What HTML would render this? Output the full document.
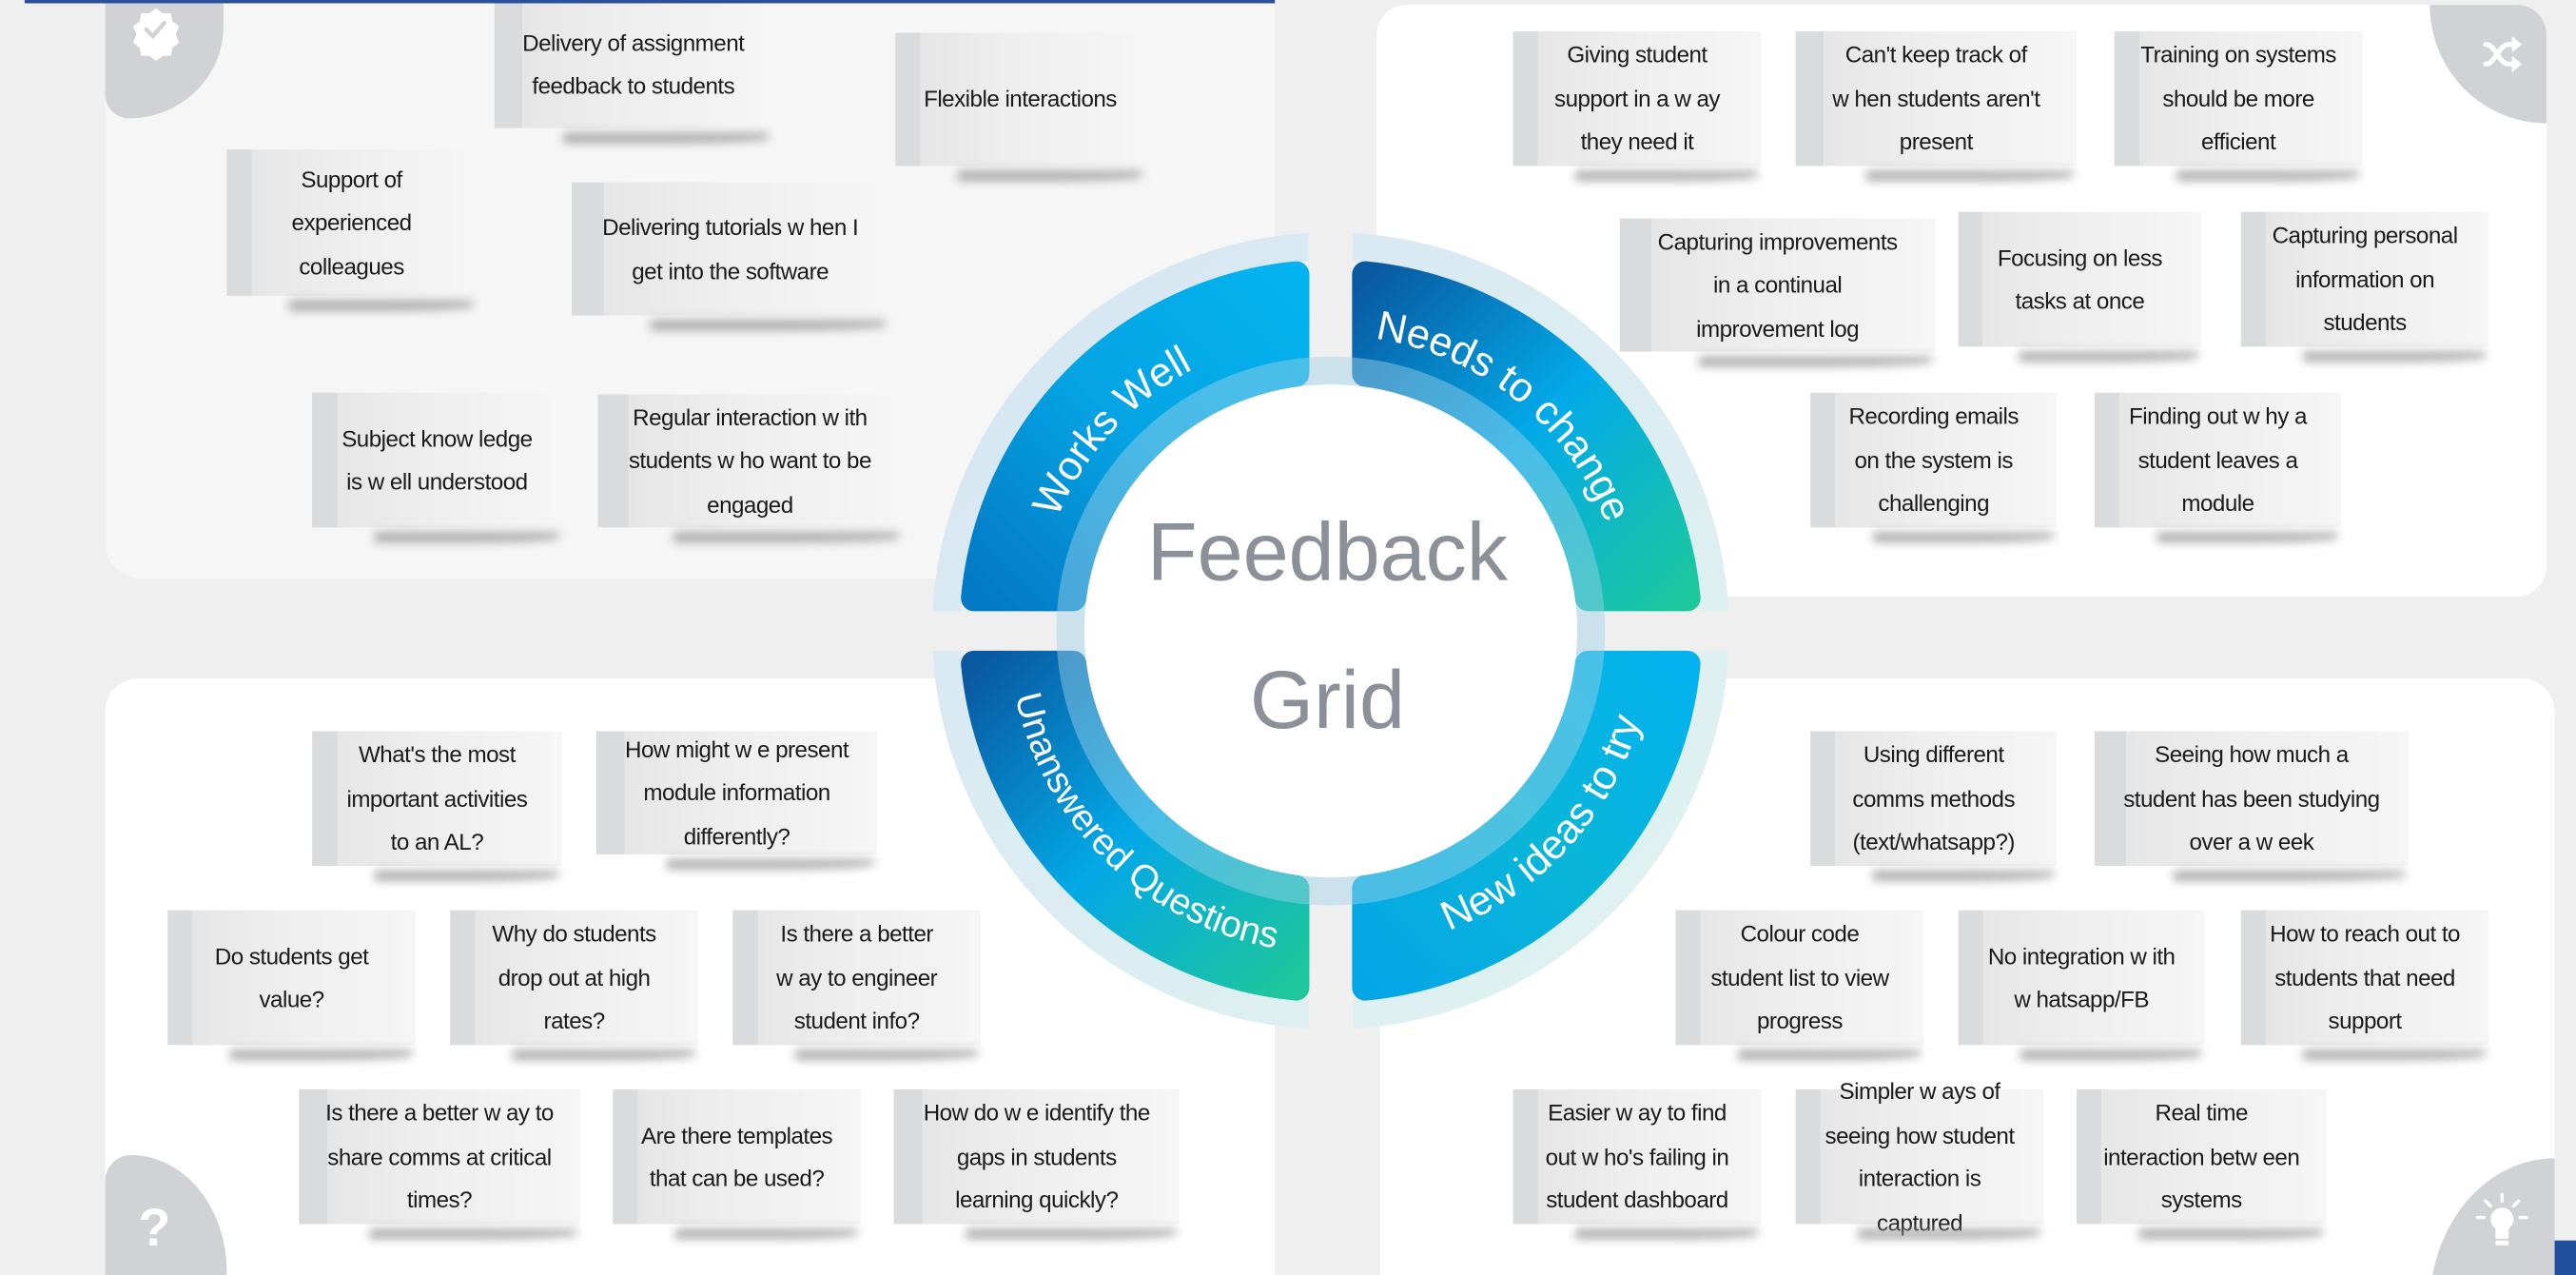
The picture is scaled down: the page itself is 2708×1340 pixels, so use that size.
<!DOCTYPE html>
<html><head><meta charset="utf-8">
<style>
html,body{margin:0;padding:0;width:2708px;height:1340px;overflow:hidden;background:#efefef;}
#w{position:absolute;left:0;top:0;width:1568px;height:776px;transform:scale(1.72704,1.72680);transform-origin:0 0;background:#efefef;overflow:hidden;font-family:"Liberation Sans",sans-serif;}
.p{position:absolute;background:#fff;}
.n{position:absolute;display:flex;flex-direction:column;justify-content:center;align-items:center;text-align:center;font-size:14px;line-height:26.5px;color:#1a1a1a;letter-spacing:-0.3px;white-space:nowrap;
background:linear-gradient(90deg,#dadbdd 0,#dadbdd 10%,#e6e6e6 10%,#eeeeee 45%,#f6f6f6 100%);}
.n::after{content:"";position:absolute;left:25%;right:2px;bottom:-9px;height:6px;background:#8e8e8e;filter:blur(3px);opacity:.75;border-radius:0 0 50% 0;}
.leaf{position:absolute;background:#d1d2d6;}
</style></head><body>
<div id="w">
<div class="p" style="left:64px;top:2px;width:712px;height:350px;background:#f6f6f6;border-radius:0 0 0 22px"></div>
<div class="p" style="left:838px;top:3px;width:712px;height:360px;border-radius:18px"></div>
<div class="p" style="left:64px;top:413px;width:712px;height:380px;border-radius:20px 20px 0 0"></div>
<div class="p" style="left:840px;top:413px;width:715px;height:380px;border-radius:20px 20px 0 0"></div>
<div style="position:absolute;left:1555px;top:755px;width:13px;height:21px;background:#1f4e9c"></div>

<div class="leaf" style="left:64px;top:2px;width:72px;height:70px;border-radius:0 0 100% 0/0 0 100% 0;border-bottom-left-radius:18px;"></div>
<div class="leaf" style="left:1479px;top:3px;width:71px;height:72px;border-radius:0 18px 0 100%/0 18px 0 100%"></div>
<div class="leaf" style="left:64px;top:703px;width:74px;height:90px;border-radius:0 100% 0 0/0 100% 0 0;border-top-left-radius:20px"></div>
<div class="leaf" style="left:1479px;top:705px;width:76px;height:90px;border-radius:100% 0 0 0/100% 0 0 0;"></div>

<svg style="position:absolute;left:0;top:0" width="1568" height="776">
<g fill="#fff">
<path d="M95,5 l4,3 5,0 1,5 4,3 -2,5 2,5 -4,3 -1,5 -5,0 -4,3 -4,-3 -5,0 -1,-5 -4,-3 2,-5 -2,-5 4,-3 1,-5 5,0z"/>
</g>
<path d="M89,18 l4,4 7,-8" fill="none" stroke="#d1d2d6" stroke-width="2.5" stroke-linecap="round"/>
<g fill="none" stroke="#fff" stroke-width="3" stroke-linecap="round">
<path d="M1513,27 c6,0 8,12 14,12 h3 M1513,39 c6,0 8,-12 14,-12 h3"/>
</g>
<path d="M1529,22 l6,5 -6,5z M1529,34 l6,5 -6,5z" fill="#fff"/>
<text x="94" y="758" font-family="Liberation Sans" font-weight="bold" font-size="32" fill="#fff" text-anchor="middle">?</text>
<g fill="#fff"><circle cx="1523" cy="742" r="7"/><rect x="1519" y="746" width="8" height="8" rx="1"/><rect x="1519" y="755" width="8" height="3" rx="1"/></g>
<g stroke="#fff" stroke-width="2" stroke-linecap="round"><path d="M1523,727 v4 M1513,731 l3,3 M1533,731 l-3,3 M1508,741 h4 M1534,741 h4"/></g>
</svg>

<svg style="position:absolute;left:0;top:0" width="1568" height="776">
<defs>
<linearGradient id="gTL" x1="0" y1="1" x2="1" y2="0"><stop offset="0" stop-color="#0378c4"/><stop offset=".5" stop-color="#05a4e4"/><stop offset="1" stop-color="#03b3ef"/></linearGradient>
<linearGradient id="gTR" x1="0" y1="0" x2="1" y2="1"><stop offset="0" stop-color="#0a58a0"/><stop offset=".5" stop-color="#02aae9"/><stop offset="1" stop-color="#1cc89e"/></linearGradient>
<linearGradient id="gBL" x1="0" y1="0" x2="1" y2="1"><stop offset="0" stop-color="#0a58a0"/><stop offset=".5" stop-color="#03a8e7"/><stop offset="1" stop-color="#1ec79b"/></linearGradient>
<linearGradient id="gBR" x1="0" y1="1" x2="1" y2="0"><stop offset="0" stop-color="#04a6e8"/><stop offset=".5" stop-color="#09b6d8"/><stop offset="1" stop-color="#03b2ef"/></linearGradient>
<linearGradient id="gH" x1="0" y1="0" x2="1" y2="1"><stop offset="0" stop-color="#d7e6f2"/><stop offset="1" stop-color="#e0f3f1"/></linearGradient>
<path id="aTL" d="M630,384 A180,180 0 0 1 810,204"/>
<path id="aTR" d="M810,204 A180,180 0 0 1 990,384"/>
<path id="aBL" d="M614,384 A196,196 0 0 0 810,580"/>
<path id="aBR" d="M810,580 A196,196 0 0 0 1006,384"/>
</defs>
<circle cx="810" cy="384" r="234" fill="none" stroke="url(#gH)" stroke-width="17"/>
<rect x="796.5" y="130" width="27" height="510" fill="#efefef"/>
<rect x="560" y="372" width="500" height="24" fill="#efefef"/>
<g stroke-width="16" stroke-linejoin="round">
<path d="M592.92,364 A218,218 0 0 1 789,167.01 L789,227.4 A158,158 0 0 0 653.3,364 Z" fill="url(#gTL)" stroke="url(#gTL)"/>
<path d="M831,167.01 A218,218 0 0 1 1027.08,364 L966.7,364 A158,158 0 0 0 831,227.4 Z" fill="url(#gTR)" stroke="url(#gTR)"/>
<path d="M1027.08,404 A218,218 0 0 1 831,600.99 L831,540.6 A158,158 0 0 0 966.7,404 Z" fill="url(#gBR)" stroke="url(#gBR)"/>
<path d="M789,600.99 A218,218 0 0 1 592.92,404 L653.3,404 A158,158 0 0 0 789,540.6 Z" fill="url(#gBL)" stroke="url(#gBL)"/>
</g>
<circle cx="810" cy="384" r="158.5" fill="none" stroke="#9fd2e8" stroke-opacity=".45" stroke-width="17"/>
<circle cx="810" cy="384" r="150" fill="#fff"/>
<g font-family="Liberation Sans" fill="#fff" text-anchor="middle">
<text font-size="25"><textPath href="#aTL" startOffset="47%">Works Well</textPath></text>
<text font-size="25"><textPath href="#aTR" startOffset="43%">Needs to change</textPath></text>
<text font-size="22.5"><textPath href="#aBL" startOffset="51%">Unanswered  Questions</textPath></text>
<text font-size="25"><textPath href="#aBR" startOffset="53%">New ideas to try</textPath></text>
</g>
<g font-family="Liberation Sans" font-size="50" fill="#8b9099" text-anchor="middle">
<text x="808" y="353">Feedback</text>
<text x="808" y="443">Grid</text>
</g>
</svg>

<!-- TL -->
<div class="n" style="left:301px;top:0;width:169px;height:78px">Delivery of assignment<br>feedback to students</div>
<div class="n" style="left:545px;top:20px;width:152px;height:81px">Flexible interactions</div>
<div class="n" style="left:138px;top:91px;width:152px;height:89px">Support of<br>experienced<br>colleagues</div>
<div class="n" style="left:348px;top:111px;width:193px;height:81px">Delivering tutorials w hen I<br>get into the software</div>
<div class="n" style="left:190px;top:239px;width:152px;height:82px">Subject know ledge<br>is w ell understood</div>
<div class="n" style="left:364px;top:240px;width:185px;height:81px">Regular interaction w ith<br>students w ho want to be<br>engaged</div>
<!-- TR -->
<div class="n" style="left:921px;top:19px;width:151px;height:82px">Giving student<br>support in a w ay<br>they need it</div>
<div class="n" style="left:1093px;top:19px;width:171px;height:82px">Can't keep track of<br>w hen students aren't<br>present</div>
<div class="n" style="left:1287px;top:19px;width:151px;height:82px">Training on systems<br>should be more<br>efficient</div>
<div class="n" style="left:986px;top:133px;width:192px;height:81px">Capturing improvements<br>in a continual<br>improvement log</div>
<div class="n" style="left:1192px;top:129px;width:148px;height:82px">Focusing on less<br>tasks at once</div>
<div class="n" style="left:1364px;top:129px;width:151px;height:82px">Capturing personal<br>information on<br>students</div>
<div class="n" style="left:1102px;top:239px;width:150px;height:82px">Recording emails<br>on the system is<br>challenging</div>
<div class="n" style="left:1275px;top:239px;width:150px;height:82px">Finding out w hy a<br>student leaves a<br>module</div>
<!-- BL -->
<div class="n" style="left:190px;top:445px;width:152px;height:82px">What's the most<br>important activities<br>to an AL?</div>
<div class="n" style="left:363px;top:445px;width:171px;height:75px">How might w e present<br>module information<br>differently?</div>
<div class="n" style="left:102px;top:554px;width:151px;height:82px">Do students get<br>value?</div>
<div class="n" style="left:274px;top:554px;width:151px;height:82px">Why do students<br>drop out at high<br>rates?</div>
<div class="n" style="left:446px;top:554px;width:151px;height:82px">Is there a better<br>w ay to engineer<br>student info?</div>
<div class="n" style="left:182px;top:663px;width:171px;height:82px">Is there a better w ay to<br>share comms at critical<br>times?</div>
<div class="n" style="left:373px;top:663px;width:151px;height:82px">Are there templates<br>that can be used?</div>
<div class="n" style="left:544px;top:663px;width:174px;height:82px">How do w e identify the<br>gaps in students<br>learning quickly?</div>
<!-- BR -->
<div class="n" style="left:1102px;top:445px;width:150px;height:82px">Using different<br>comms methods<br>(text/whatsapp?)</div>
<div class="n" style="left:1275px;top:445px;width:191px;height:82px">Seeing how much a<br>student has been studying<br>over a w eek</div>
<div class="n" style="left:1020px;top:554px;width:151px;height:82px">Colour code<br>student list to view<br>progress</div>
<div class="n" style="left:1192px;top:554px;width:150px;height:82px">No integration w ith<br>w hatsapp/FB</div>
<div class="n" style="left:1364px;top:554px;width:151px;height:82px">How to reach out to<br>students that need<br>support</div>
<div class="n" style="left:921px;top:663px;width:151px;height:82px">Easier w ay to find<br>out w ho's failing in<br>student dashboard</div>
<div class="n" style="left:1093px;top:663px;width:151px;height:82px">Simpler w ays of<br>seeing how student<br>interaction is<br>captured</div>
<div class="n" style="left:1264px;top:663px;width:152px;height:82px">Real time<br>interaction betw een<br>systems</div>
<div style="position:absolute;left:15px;top:0;width:761px;height:2px;background:#2a4f9c"></div>
</div>
</body></html>
